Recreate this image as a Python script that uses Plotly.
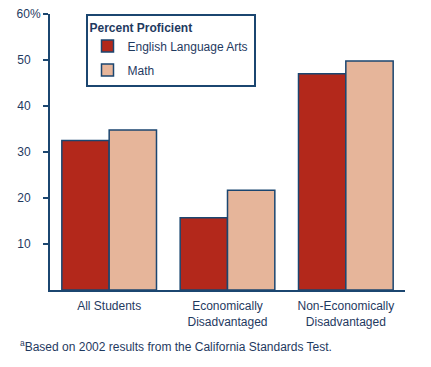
import plotly.graph_objects as go

categories = ["All Students", "Economically<br>Disadvantaged", "Non-Economically<br>Disadvantaged"]
ela_values = [32.5, 15.7, 47]
math_values = [34.8, 21.7, 49.8]
tick_vals = [10, 20, 30, 40, 50, 60]
tick_text = ["10\u00a0\u00a0\u00a0", "20\u00a0\u00a0\u00a0", "30\u00a0\u00a0\u00a0",
             "40\u00a0\u00a0\u00a0", "50\u00a0\u00a0\u00a0", "60%"]

navy = "#1b4670"
text_color = "#1f3a5f"
font = "Liberation Sans, Arial, sans-serif"

fig = go.Figure()
fig.add_trace(go.Bar(x=categories, y=ela_values, name="English Language Arts", legendgroup="ela",
                     marker=dict(color="#b3281b", line=dict(color=navy, width=1.5))))
fig.add_trace(go.Bar(x=categories, y=math_values, name="Math", legendgroup="math",
                     marker=dict(color="#e6b59a", line=dict(color=navy, width=1.5))))

fig.update_layout(
    width=431, height=367,
    margin=dict(l=42, r=34, t=6, b=85, autoexpand=False),
    paper_bgcolor="white", plot_bgcolor="white",
    barmode="group", bargap=0.2, bargroupgap=0,
    font=dict(family=font, size=12, color=text_color),
    legend=dict(
        title=dict(text="<b>Percent Proficient</b>", side="top", font=dict(size=12, color=text_color)),
        x=0.1, y=1.0, xanchor="left", yanchor="top",
        bordercolor=navy, borderwidth=2, bgcolor="white",
        font=dict(size=12, color=text_color),
        traceorder="grouped", tracegroupgap=5,
    ),
    xaxis=dict(range=[-0.5, 2.5], showline=True, linecolor=navy, linewidth=2,
               ticks="", showgrid=False, automargin=False, ticklabelstandoff=4,
               tickfont=dict(size=12, color=text_color)),
    yaxis=dict(range=[0, 60], showline=True, linecolor=navy, linewidth=2,
               tickmode="array", tickvals=tick_vals, ticktext=tick_text,
               ticks="outside", ticklen=5, tickcolor=navy, tickwidth=1.5,
               showgrid=False, zeroline=False, automargin=False, ticklabelstandoff=0,
               ticklabeloverflow="allow",
               tickfont=dict(size=12, color=text_color)),
    annotations=[dict(text="<sup>a</sup>Based on 2002 results from the California Standards Test.",
                      xref="paper", yref="paper", x=-0.09, y=-0.167, xanchor="left", yanchor="top",
                      showarrow=False, font=dict(size=12, color=text_color))],
)

fig.write_html("out.html")
